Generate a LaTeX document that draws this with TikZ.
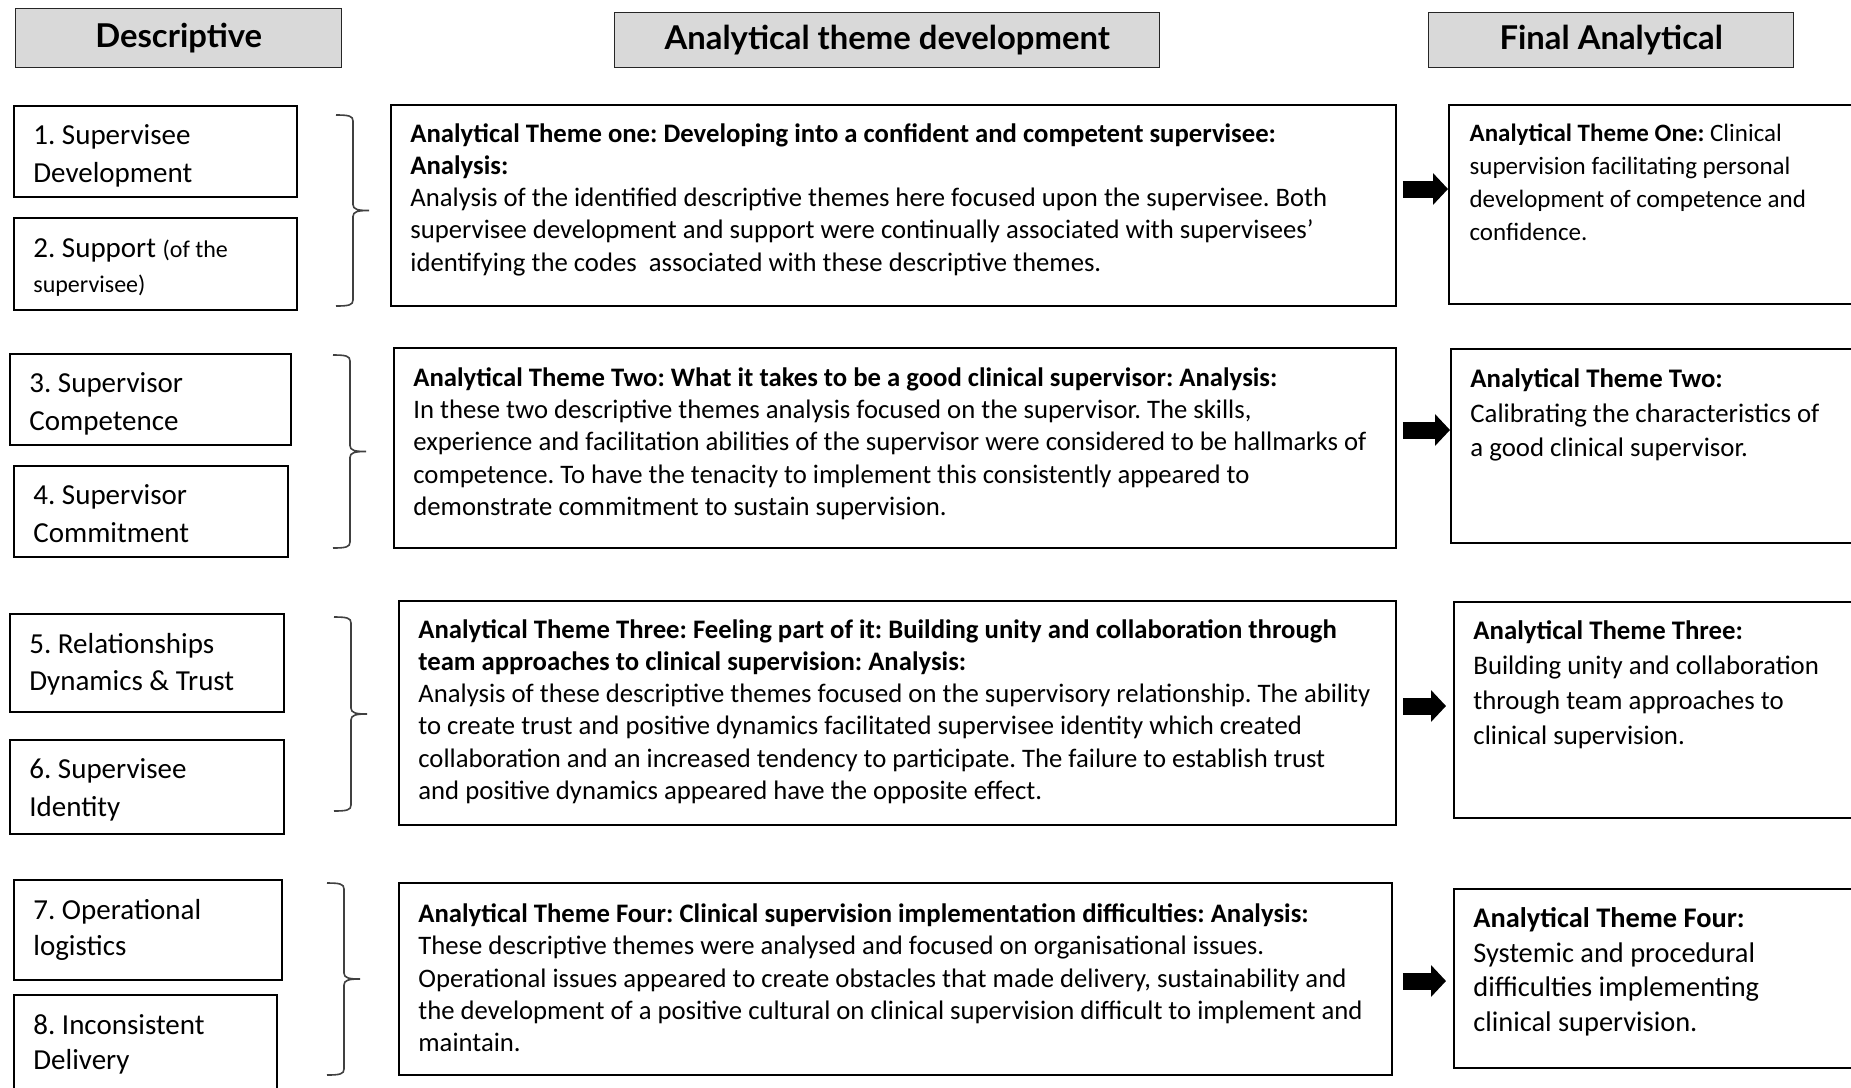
\documentclass[tikz,border=0pt]{standalone}
\usepackage{fontspec}
\setmainfont{Carlito}
\newfontfamily\headfont{Lato}
\usetikzlibrary{positioning,arrows.meta}

\definecolor{headgray}{HTML}{D9D9D9}
\newcommand{\smalltxt}{\fontsize{12}{14}\selectfont}
% thin curly bracket: left x, top y, bottom y
\newcommand{\themebrace}[3]{%
  \draw[curly] (#1,#2) .. controls (#1+13,#2) and (#1+17,#2+1) .. (#1+17,#2+6)
    -- (#1+17,{(#2+#3)/2-6}) .. controls (#1+17,{(#2+#3)/2-1}) and (#1+22,{(#2+#3)/2}) .. (#1+33,{(#2+#3)/2})
    .. controls (#1+22,{(#2+#3)/2}) and (#1+17,{(#2+#3)/2+1}) .. (#1+17,{(#2+#3)/2+6})
    -- (#1+17,#3-6) .. controls (#1+17,#3-1) and (#1+13,#3) .. (#1,#3);}

\tikzset{
  headbox/.style={draw=black!85, fill=headgray, line width=0.7pt, anchor=north west,
    inner sep=0pt, font=\headfont\bfseries\fontsize{16.4}{19}\selectfont},
  themebox/.style={draw, line width=0.9pt, anchor=north west, inner sep=0pt},
  desctext/.style={align=left, inner sep=0pt, font=\fontsize{14.5}{18.9}\selectfont,
    execute at begin node=\strut},
  anatext/.style={align=left, inner sep=0pt, font=\fontsize{13.35}{16.1}\selectfont,
    execute at begin node=\strut},
  fintext/.style={align=left, inner sep=0pt, execute at begin node=\strut},
  curly/.style={draw=black!75, line width=0.8pt},
  fatarrow/.style={line width=8.5pt, -{Triangle[length=7.5pt,width=15.5pt]}},
}

\begin{document}
\frenchspacing
\begin{tikzpicture}[x=0.5pt, y=-0.5pt]
        \useasboundingbox (0,0) rectangle (1851,1087);
        \clip (0,0) rectangle (1851,1087);

        % column heads
        \node[headbox, minimum width=163pt, minimum height=29.5pt] (hdesc) at (15,8) {Descriptive};
        \node[headbox, minimum width=272.5pt, minimum height=27.5pt] (hana) at (614,12) {Analytical theme development};
        \node[headbox, minimum width=182.5pt, minimum height=27.5pt] (hfin) at (1428,12) {Final Analytical};

        % descriptive themes
        \node[themebox, minimum width=141.5pt, minimum height=45.5pt] (d1) at (13,105) {};
        \node[themebox, minimum width=141.5pt, minimum height=46pt] (d2) at (13,217) {};
        \node[themebox, minimum width=140.5pt, minimum height=45.5pt] (d3) at (9,353) {};
        \node[themebox, minimum width=137pt, minimum height=45.5pt] (d4) at (13,465) {};
        \node[themebox, minimum width=137pt, minimum height=49pt] (d5) at (9,613) {};
        \node[themebox, minimum width=137pt, minimum height=47pt] (d6) at (9,739) {};
        \node[themebox, minimum width=134pt, minimum height=50pt] (d7) at (13,879) {};
        \node[themebox, minimum width=131.5pt, minimum height=60pt] (d8) at (13,994) {};
        \node[desctext, below right=9.8pt and 10pt of d1.north west] (d1t) {1. Supervisee\\Development};
        \node[desctext, font=\fontsize{14.5}{17.7}\selectfont, below right=10.6pt and 10pt of d2.north west] (d2t) {2. Support {\smalltxt(of the}\\{\smalltxt supervisee)}};
        \node[desctext, below right=9.8pt and 10pt of d3.north west] (d3t) {3. Supervisor\\Competence};
        \node[desctext, below right=9.8pt and 10pt of d4.north west] (d4t) {4. Supervisor\\Commitment};
        \node[desctext, below right=9.8pt and 10pt of d5.north west] (d5t) {5. Relationships\\Dynamics \& Trust};
        \node[desctext, below right=9.8pt and 10pt of d6.north west] (d6t) {6. Supervisee\\Identity};
        \node[desctext, font=\fontsize{14.5}{17.7}\selectfont, below right=10.1pt and 10pt of d7.north west] (d7t) {7. Operational\\logistics};
        \node[desctext, font=\fontsize{14.5}{17.7}\selectfont, below right=10.1pt and 10pt of d8.north west] (d8t) {8. Inconsistent\\Delivery};

        % braces
        \themebrace{336}{115}{306}
        \themebrace{333}{355}{548}
        \themebrace{334}{617}{811}
        \themebrace{327}{883}{1075}

        % analytical theme development
        \node[themebox, minimum width=502.5pt, minimum height=100.5pt] (m1) at (390,104) {};
        \node[themebox, minimum width=501pt, minimum height=100pt] (m2) at (393,347) {};
        \node[themebox, minimum width=498.5pt, minimum height=112pt] (m3) at (398,600) {};
        \node[themebox, minimum width=496.5pt, minimum height=96pt] (m4) at (398,882) {};
        \node[anatext, below right=9.6pt and 10pt of m1.north west] (m1t) {\textbf{Analytical Theme one: Developing into a confident and competent supervisee:}\\
          \textbf{Analysis:}\\
          Analysis of the identified descriptive themes here focused upon the supervisee. Both\\
          supervisee development and support were continually associated with supervisees'\\
          identifying the codes\ \ associated with these descriptive themes.};
        \node[anatext, below right=10.2pt and 10pt of m2.north west] (m2t) {\textbf{Analytical Theme Two: What it takes to be a good clinical supervisor: Analysis:}\\
          In these two descriptive themes analysis focused on the supervisor. The skills,\\
          experience and facilitation abilities of the supervisor were considered to be hallmarks of\\
          competence. To have the tenacity to implement this consistently appeared to\\
          demonstrate commitment to sustain supervision.};
        \node[anatext, below right=9.6pt and 10pt of m3.north west] (m3t) {\textbf{Analytical Theme Three: Feeling part of it: Building unity and collaboration through}\\
          \textbf{team approaches to clinical supervision: Analysis:}\\
          Analysis of these descriptive themes focused on the supervisory relationship. The ability\\
          to create trust and positive dynamics facilitated supervisee identity which created\\
          collaboration and an increased tendency to participate. The failure to establish trust\\
          and positive dynamics appeared have the opposite effect.};
        \node[anatext, below right=10.8pt and 10pt of m4.north west] (m4t) {\textbf{Analytical Theme Four: Clinical supervision implementation difficulties: Analysis:}\\
          These descriptive themes were analysed and focused on organisational issues.\\
          Operational issues appeared to create obstacles that made delivery, sustainability and\\
          the development of a positive cultural on clinical supervision difficult to implement and\\
          maintain.};

        % final analytical themes
        \node[themebox, minimum width=225pt, minimum height=99.5pt] (f1) at (1448,104) {};
        \node[themebox, minimum width=225pt, minimum height=97pt] (f2) at (1450,348) {};
        \node[themebox, minimum width=225pt, minimum height=108pt] (f3) at (1453,601) {};
        \node[themebox, minimum width=225pt, minimum height=89.5pt] (f4) at (1453,888) {};
        \node[fintext, font=\fontsize{12.5}{16.4}\selectfont, below right=9.9pt and 10.6pt of f1.north west] (f1t) {\textbf{Analytical Theme One:} Clinical\\
          supervision facilitating personal\\development of competence and\\confidence.};
        \node[fintext, font=\fontsize{13.4}{17.4}\selectfont, below right=10pt and 10pt of f2.north west] (f2t) {\textbf{Analytical Theme Two:}\\
          Calibrating the characteristics of\\a good clinical supervisor.};
        \node[fintext, font=\fontsize{13.4}{17.6}\selectfont, below right=9.4pt and 10pt of f3.north west] (f3t) {\textbf{Analytical Theme Three:}\\
          Building unity and collaboration\\through team approaches to\\clinical supervision.};
        \node[fintext, font=\fontsize{14.2}{17.3}\selectfont, below right=9.7pt and 10pt of f4.north west] (f4t) {\textbf{Analytical Theme Four:}\\
          Systemic and procedural\\difficulties implementing\\clinical supervision.};

        % arrows
        \draw[fatarrow, shorten <=3pt] (m1.east |- 0,189) -- (f1.west |- 0,189);
        \draw[fatarrow, shorten <=3pt] (m2.east |- 0,430) -- (f2.west |- 0,430);
        \draw[fatarrow, shorten <=3pt, shorten >=3.5pt] (m3.east |- 0,706) -- (f3.west |- 0,706);
        \draw[fatarrow, shorten <=5pt, shorten >=3.5pt] (m4.east |- 0,981) -- (f4.west |- 0,981);
\end{tikzpicture}
\end{document}
